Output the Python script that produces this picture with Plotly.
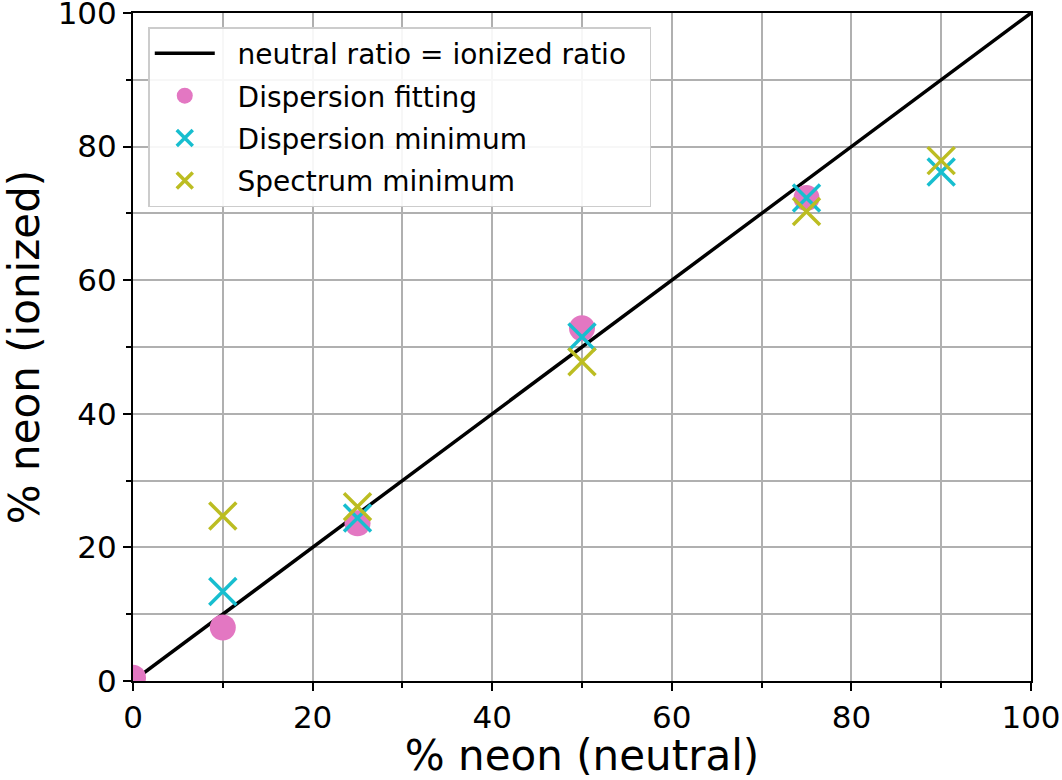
import plotly.graph_objects as go

# data
line_x = [0, 100]
line_y = [0, 100]

fit_x = [0, 10, 25, 50, 75]
fit_y = [0.5, 8.0, 23.6, 52.8, 72.3]

dmin_x = [10, 25, 50, 75, 90]
dmin_y = [13.4, 24.4, 51.5, 72.3, 76.2]

smin_x = [10, 25, 50, 75, 90]
smin_y = [24.7, 26.1, 47.8, 70.3, 77.9]

pad = "\u00a0\u00a0"

fig = go.Figure()

fig.add_trace(go.Scatter(x=line_x, y=line_y, mode="lines",
                         line=dict(color="black", width=3.5),
                         name=pad + "neutral ratio = ionized ratio" + pad, legendgroup="a"))
fig.add_trace(go.Scatter(x=fit_x, y=fit_y, mode="markers",
                         marker=dict(color="#e377c2", size=26, symbol="circle"),
                         name=pad + "Dispersion fitting", legendgroup="b"))
fig.add_trace(go.Scatter(x=dmin_x, y=dmin_y, mode="markers",
                         marker=dict(color="#17becf", size=27, symbol="x-thin",
                                     line=dict(color="#17becf", width=3.5)),
                         name=pad + "Dispersion minimum", legendgroup="c"))
fig.add_trace(go.Scatter(x=smin_x, y=smin_y, mode="markers",
                         marker=dict(color="#bcbd22", size=27, symbol="x-thin",
                                     line=dict(color="#bcbd22", width=3.5)),
                         name=pad + "Spectrum minimum", legendgroup="d"))

axis_style = dict(
    range=[0, 100], dtick=20, showgrid=True, gridcolor="#b0b0b0", gridwidth=1.5,
    showline=True, linecolor="black", linewidth=2, mirror=True,
    ticks="outside", ticklen=8, tickwidth=2, tickcolor="black",
    zeroline=False, automargin=False, ticklabeloverflow="allow",
    tickfont=dict(size=31, color="black"),
    minor=dict(dtick=10, showgrid=True, gridcolor="#b0b0b0", gridwidth=1.5,
               ticks="outside", ticklen=5, tickwidth=1.5, tickcolor="black"),
)

fig.update_xaxes(**axis_style, title=dict(text="% neon (neutral)", font=dict(size=42, color="black"), standoff=12))
fig.update_yaxes(**axis_style, title=dict(text="% neon (ionized)", font=dict(size=42, color="black"), standoff=40))

fig.update_layout(
    width=1062, height=780,
    margin=dict(l=133, r=31, t=13, b=99),
    plot_bgcolor="white", paper_bgcolor="white",
    font=dict(family="DejaVu Sans", color="black"),
    showlegend=True,
    legend=dict(x=0.017, y=0.979, xanchor="left", yanchor="top",
                bgcolor="rgba(255,255,255,0.9)", bordercolor="#cccccc", borderwidth=1.5,
                font=dict(size=28, color="black"), itemwidth=60,
                traceorder="grouped", tracegroupgap=3),
)

# drop the default page margin so the figure sits at the window corner
fig.write_html("out.html", config={"displayModeBar": False},
               post_script="document.body.style.margin='0';")
